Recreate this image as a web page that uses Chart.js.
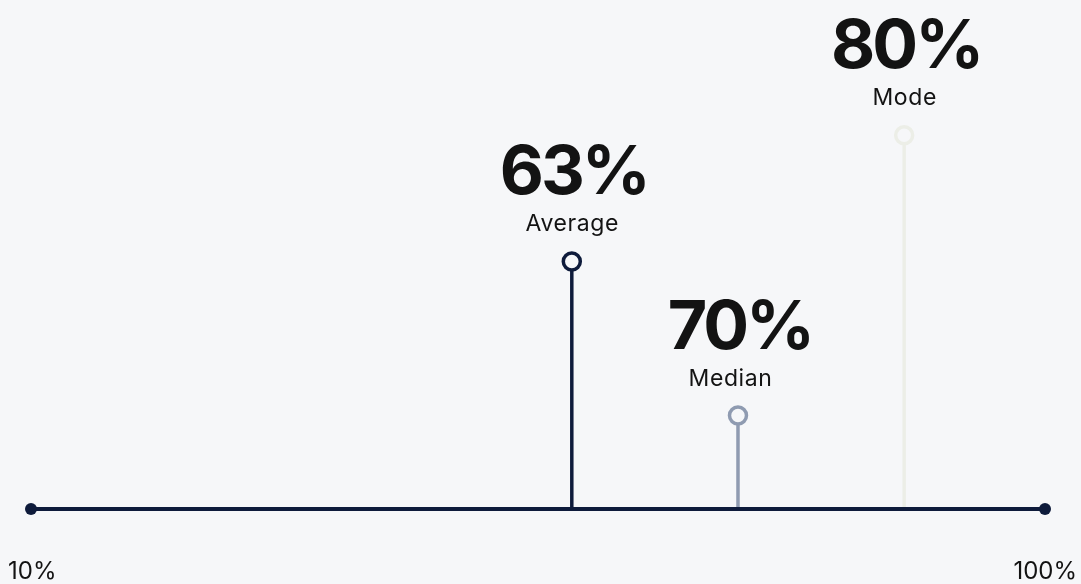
<html>
<head></head>
<body style="margin:0;background:#f6f7f9">
<script src="https://cdn.jsdelivr.net/npm/chart.js@4"></script>
<div style="width:1081px;height:584px"><canvas id="myChart"></canvas></div>
<script>
// stats shown on the chart
const statNames = ['Average', 'Median', 'Mode'];
const statValues = [63, 70, 80];
// where each stem sits on the 10..100 axis, and how tall it is (0..100)
const stemPos = [58, 72.75, 87.5];
const stemHeight = [49.8, 18.8, 75.2];
const axisTicks = ['10%', '100%'];
const axisMin = 10, axisMax = 100;

const stemColors = ['#0e1b3b', '#8f9bb1', '#eceee7'];
const nameNudge = [0, -8, 0];
const bg = '#f6f7f9';
const navy = '#0e1b3b';

const datasets = [{
    data: [{x: axisMin, y: 0}, {x: axisMax, y: 0}],
    borderColor: navy,
    borderWidth: 4,
    pointRadius: 6,
    pointBackgroundColor: navy,
    pointBorderWidth: 0,
    order: 0
}];
for (let i = 0; i < statNames.length; i++) {
    datasets.push({
        data: [{x: stemPos[i], y: 0}, {x: stemPos[i], y: stemHeight[i]}],
        borderColor: stemColors[i],
        borderWidth: 3.5,
        pointRadius: [0, 8.5],
        pointBorderWidth: 3.5,
        pointBorderColor: stemColors[i],
        pointBackgroundColor: bg,
        order: 1
    });
}

const labelsPlugin = {
    id: 'stemLabels',
    afterDraw(chart) {
        const ctx = chart.ctx;
        const xs = chart.scales.x, ys = chart.scales.y;
        ctx.save();
        ctx.textAlign = 'center';
        ctx.textBaseline = 'alphabetic';
        for (let i = 0; i < statNames.length; i++) {
            const px = xs.getPixelForValue(stemPos[i]);
            const py = ys.getPixelForValue(stemHeight[i]);
            ctx.fillStyle = '#131313';
            ctx.font = '700 68px Inter';
            ctx.letterSpacing = '-3px';
            ctx.fillText(statValues[i] + '%', px + 2, py - 67);
            ctx.font = '400 23px Inter';
            ctx.letterSpacing = '0.6px';
            ctx.fillText(statNames[i], px + nameNudge[i] + 0.5, py - 30);
        }
        ctx.font = '400 24px Inter';
        ctx.letterSpacing = '0px';
        ctx.fillStyle = '#131313';
        ctx.textAlign = 'left';
        ctx.fillText(axisTicks[0], 8, 579);
        ctx.textAlign = 'right';
        ctx.fillText(axisTicks[1], chart.width - 4, 579);
        ctx.restore();
    }
};

const ctx = document.getElementById('myChart').getContext('2d');
const myChart = new Chart(ctx, {
    type: 'line',
    data: { datasets: datasets },
    options: {
        responsive: true,
        maintainAspectRatio: false,
        animation: false,
        layout: { padding: { left: 31, right: 36, top: 9, bottom: 75 } },
        scales: {
            x: { type: 'linear', min: axisMin, max: axisMax, display: false },
            y: { min: 0, max: 100, display: false }
        },
        plugins: { legend: { display: false }, tooltip: { enabled: false } },
        elements: { line: { tension: 0 } },
        clip: false
    },
    plugins: [labelsPlugin]
});
</script>
</body>
</html>
